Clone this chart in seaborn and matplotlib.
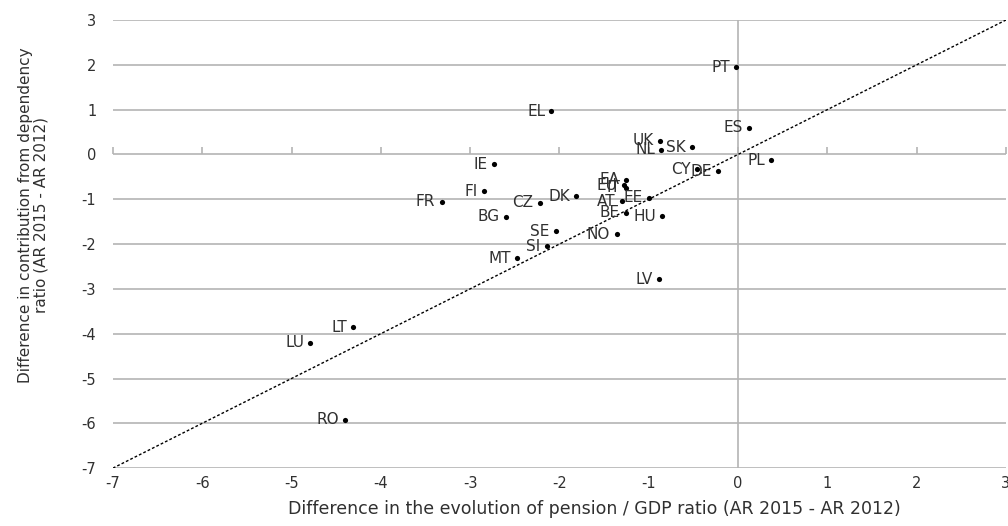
import matplotlib
matplotlib.use("Agg")
import matplotlib.pyplot as plt
import seaborn as sns
import pandas as pd

countries = ["PT", "ES", "UK", "SK", "NL", "PL", "CY", "DE", "EL", "IE", "FI", "FR",
             "CZ", "DK", "BG", "EA", "EU", "IT", "AT", "EE", "BE", "HU", "SE", "NO",
             "SI", "MT", "LV", "LT", "LU", "RO"]
pension_gdp = [-0.02, 0.12, -0.87, -0.52, -0.86, 0.37, -0.46, -0.22, -2.09, -2.73, -2.84, -3.32,
               -2.22, -1.81, -2.60, -1.26, -1.28, -1.25, -1.30, -1.00, -1.26, -0.85, -2.04, -1.36,
               -2.14, -2.47, -0.88, -4.31, -4.79, -4.40]
dependency = [1.94, 0.60, 0.31, 0.16, 0.11, -0.13, -0.33, -0.37, 0.96, -0.22, -0.82, -1.06,
              -1.08, -0.93, -1.39, -0.57, -0.69, -0.74, -1.04, -0.97, -1.30, -1.38, -1.71, -1.78,
              -2.05, -2.32, -2.79, -3.86, -4.20, -5.92]
diag = [-7, 3]
xticks = list(range(-7, 4))
yticks = list(range(-7, 4))

df = pd.DataFrame({"country": countries, "x": pension_gdp, "y": dependency})

sns.set_theme(style="white")
plt.rcParams["font.family"] = ["DejaVu Sans"]
plt.rcParams["axes.unicode_minus"] = False

fig = plt.figure(figsize=(10.08, 5.26), dpi=100)
ax = fig.add_axes([0.112, 0.110, 0.886, 0.852])

grey = "#b4b4b4"
txt = "#303030"
for yv in yticks:
    ax.axhline(yv, color=grey, lw=1.2, zorder=0)
ax.axvline(0, color=grey, lw=1.2, zorder=0)

sns.lineplot(x=diag, y=diag, ax=ax, color="black", lw=1.0, linestyle=(0, (2, 1.5)), zorder=2)
sns.scatterplot(data=df, x="x", y="y", ax=ax, color="black", s=14, edgecolor="black",
                linewidth=0, zorder=3)

for c, xv, yv in zip(countries, pension_gdp, dependency):
    ax.annotate(c, (xv, yv), xytext=(-4.5, 0), textcoords="offset points",
                ha="right", va="center", fontsize=11, color=txt, zorder=4)

ax.set_xlim(-7, 3)
ax.set_ylim(-7, 3)
ax.set_xticks(xticks)
ax.set_yticks(yticks)
ax.tick_params(axis="x", length=0, labelsize=10.5, colors=txt, pad=6)
ax.tick_params(axis="y", length=0, labelsize=10.5, colors=txt, pad=12)
for s in ax.spines.values():
    s.set_visible(False)

# x axis crossing at y = 0 with tick marks
sec = ax.secondary_xaxis((0 - (-7)) / 10)
sec.set_xticks(xticks)
sec.set_xticklabels([])
sec.tick_params(direction="out", length=5, color=grey, width=1.2)
sec.spines["bottom"].set_visible(False)
sec.spines["top"].set_visible(False)

ax.set_xlabel("Difference in the evolution of pension / GDP ratio (AR 2015 - AR 2012)",
              fontsize=12.5, color=txt, labelpad=6)
ax.xaxis.label.set_x(0.539)
ax.set_ylabel("Difference in contribution from dependency\nratio (AR 2015 - AR 2012)",
              fontsize=11, color=txt, labelpad=24, linespacing=1.05)
ax.yaxis.label.set_y(0.565)

fig.savefig("out.png", dpi=100)
